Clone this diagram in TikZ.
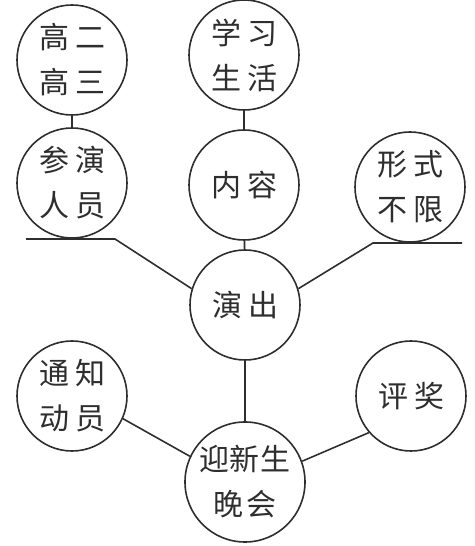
\documentclass[tikz,border=0pt]{standalone}
\usepackage{fontspec}
\newfontfamily\cjk{Noto Sans CJK SC}
\definecolor{ink}{HTML}{2E2E2E}
\newcommand{\gp}{\hspace{6pt}}
\begin{document}
\begin{tikzpicture}[x=1pt,y=1pt,
  circ/.style={circle,draw=ink,line width=1.6pt,minimum size=110pt,inner sep=0pt,
    align=center,text=ink,font=\cjk\fontsize{30}{45}\selectfont},
  big/.style={circ,minimum size=120pt},
  link/.style={draw=ink,line width=1.6pt}]
\useasboundingbox (0,0) rectangle (474,546);
\node[circ] (a) at (72,486) {高\gp 二\\高\gp 三};
\node[circ] (b) at (244,491) {学\gp 习\\生\gp 活};
\node[circ] (c) at (72,363) {参\gp 演\\人\gp 员};
\node[circ] (d) at (244,361) {内\gp 容};
\node[circ] (e) at (410,359) {形\gp 式\\不\gp 限};
\node[circ] (f) at (245,241) {演\gp 出};
\node[circ] (g) at (72,150) {通\gp 知\\动\gp 员};
\node[circ] (h) at (411,150) {评\gp 奖};
\node[big] (i) at (245,64) {迎\hspace{1pt}新\hspace{1pt}生\\晚\hspace{3pt}会};
\coordinate (L1) at (26,307);
\coordinate (L2) at (115,307);
\coordinate (R1) at (462,303);
\coordinate (R2) at (373,303);
\draw[link] (a) -- (c);
\draw[link] (b) -- (d);
\draw[link] (d) -- (f);
\draw[link] (f) -- (i);
\draw[link] (L1) -- (L2) -- (f.163);
\draw[link] (R1) -- (R2) -- (f.17);
\draw[link] (g.-24) -- (i.155);
\draw[link] (h.-139) -- (i.20);
\end{tikzpicture}
\end{document}
